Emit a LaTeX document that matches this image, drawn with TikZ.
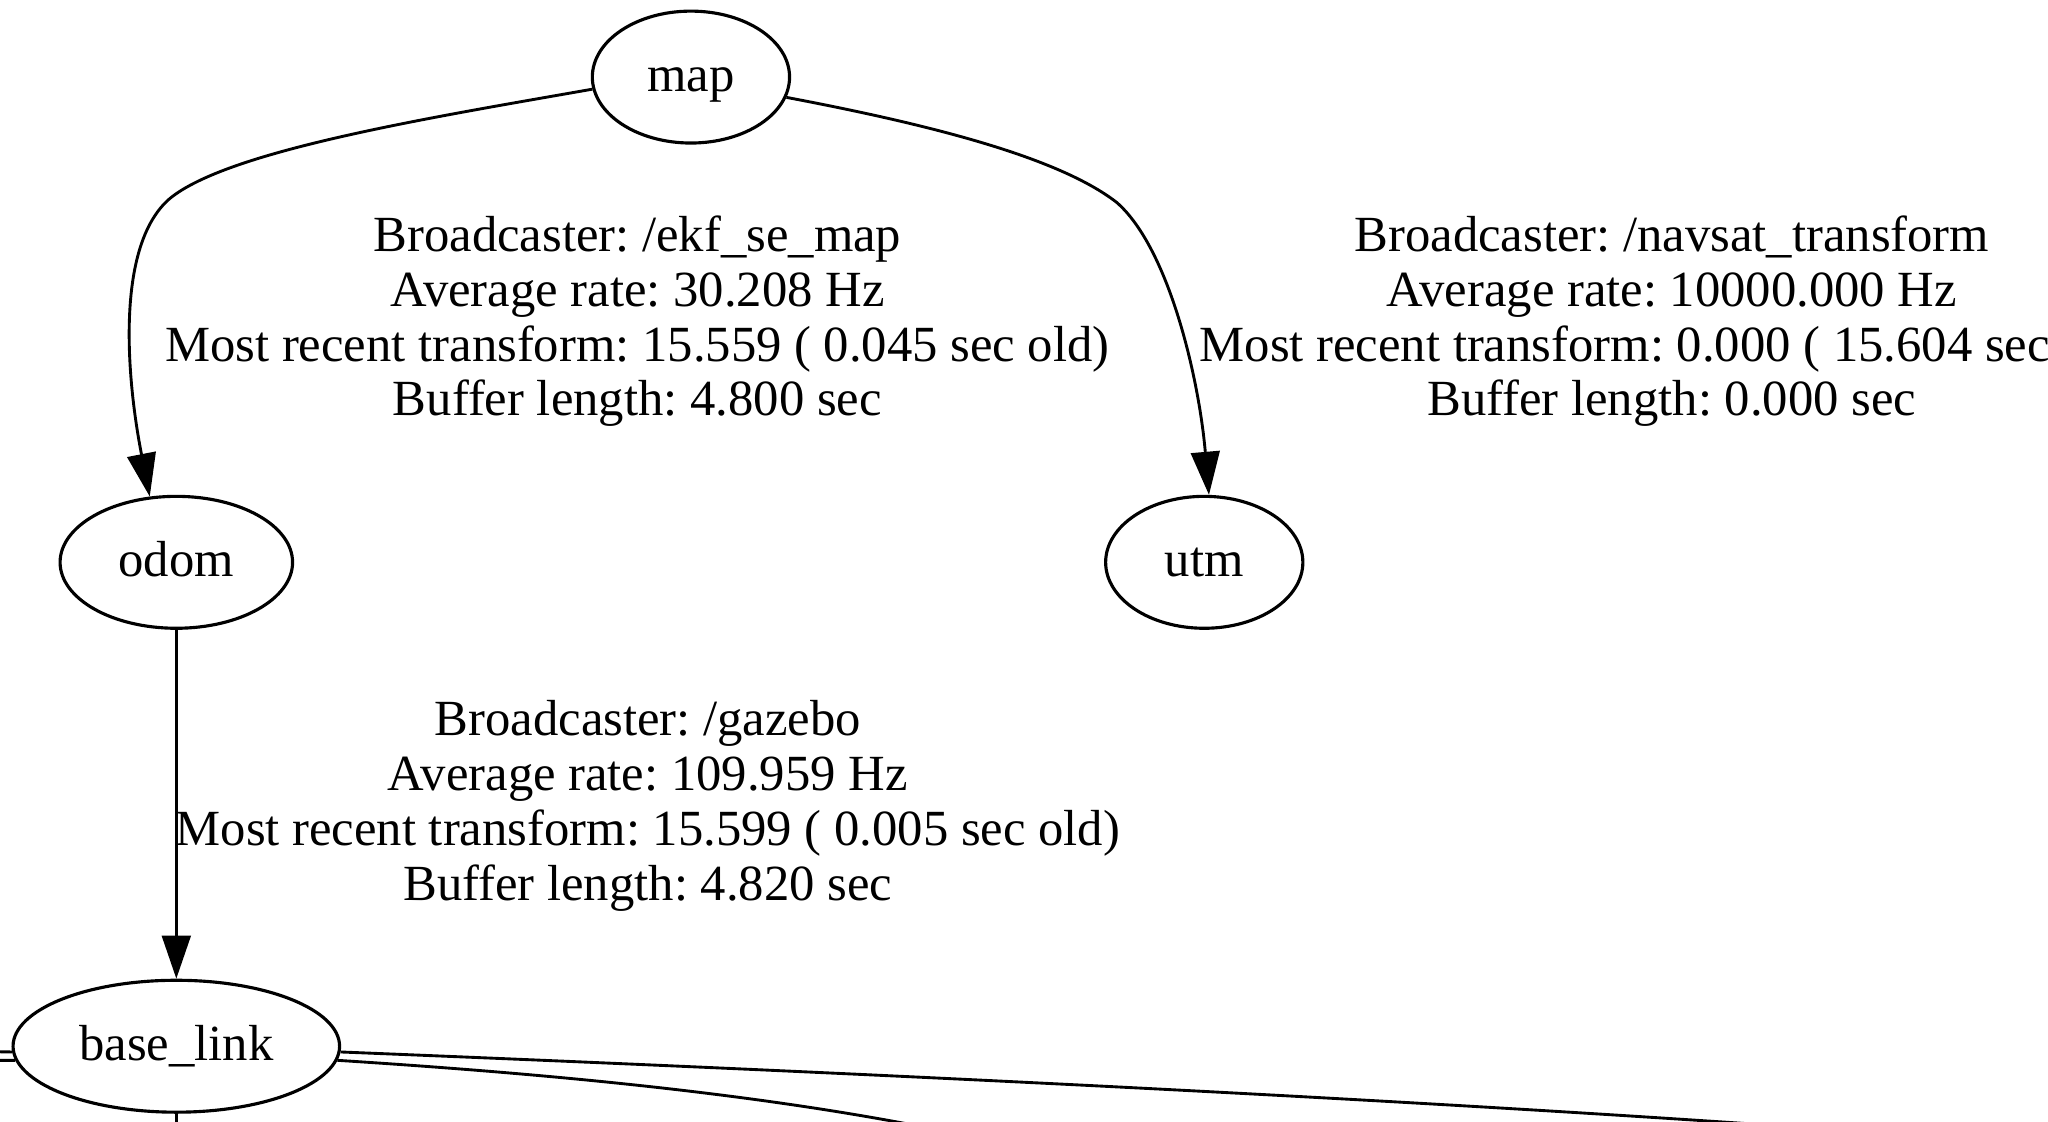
\documentclass[tikz,border=0pt]{standalone}
\usepackage{fontspec}
\setmainfont{Liberation Serif}
\usetikzlibrary{shapes.geometric,arrows.meta}
\frenchspacing
\begin{document}
\begin{tikzpicture}[x=0.5pt,y=-0.5pt,
  gtext/.style={font=\fontsize{19.4pt}{21pt}\selectfont},
  gnode/.style={gtext, ellipse, draw, line width=1.2pt, inner sep=0pt, minimum height=50.5pt, text height=11pt, text depth=0pt},
  glabel/.style={gtext, align=center, inner sep=0pt},
  gedge/.style={line width=1.1pt, -{Triangle[length=16.5pt,width=11pt]}},
  gline/.style={line width=1.1pt}]
\fill[white] (0,0) rectangle (1568,859);
\useasboundingbox (0,0) rectangle (1568,859);
\clip (0,0) rectangle (1568,859);

\node[gnode, minimum width=75.5pt] (map) at (529,59) {map};
\node[gnode, minimum width=89pt] (odom) at (135,430.5) {odom};
\node[gnode, minimum width=75.5pt] (utm) at (922,430.5) {utm};
\node[gnode, minimum width=125pt] (base) at (135,801) {base\_link};

\node[glabel] (l1) at (488,246) {Broadcaster: /ekf\_se\_map\\Average rate: 30.208 Hz\\Most recent transform: 15.559 ( 0.045 sec old)\\Buffer length: 4.800 sec};
\node[glabel] (l2) at (1280,246) {Broadcaster: /navsat\_transform\\Average rate: 10000.000 Hz\\Most recent transform: 0.000 ( 15.604 sec old)\\Buffer length: 0.000 sec};
\node[glabel] (l3) at (496,617) {Broadcaster: /gazebo\\Average rate: 109.959 Hz\\Most recent transform: 15.599 ( 0.005 sec old)\\Buffer length: 4.820 sec};

\draw[gedge] (map.187) .. controls (330,90) and (175,115) .. (130,152) .. controls (88,188) and (97,290) .. (odom.112);
\draw[gedge] (map.-12) .. controls (710,95) and (810,120) .. (855,155) .. controls (895,190) and (918,290) .. (utm.86);
\draw[gedge] (odom.south) -- (base.north);

\coordinate (o1) at (1420,866);
\coordinate (o2) at (760,874);
\coordinate (o3) at (135,880);
\coordinate (o4) at (-20,805);
\coordinate (o5) at (-20,812);
\draw[gline] (base.-2) .. controls (700,823) and (1100,843) .. (o1);
\draw[gline] (base.-5) .. controls (450,824) and (620,842) .. (o2);
\draw[gline] (base.south) -- (o3);
\draw[gline] (base.182) -- (o4);
\draw[gline] (base.185) -- (o5);
\end{tikzpicture}
\end{document}
